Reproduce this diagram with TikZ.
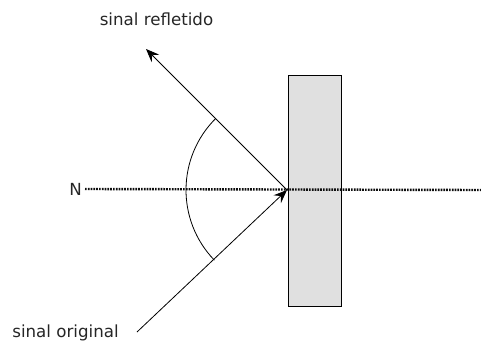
\documentclass[tikz,border=0pt]{standalone}
\usepackage{fontspec}
\setmainfont{DejaVu Sans}
\usetikzlibrary{arrows.meta}
\begin{document}
\begin{tikzpicture}[x=0.75pt,y=-0.75pt,
  lbl/.style={font=\fontsize{12.5}{14}\selectfont, text=black!85, inner sep=0pt},
  ray/.style={line width=0.6pt, -{Stealth[length=10pt,width=8pt,inset=3.5pt]}},
  normal/.style={line width=1.8pt, dash pattern=on 1.3pt off 0.8pt, black!95}]
\useasboundingbox (0,0) rectangle (481,349);
\node[draw=black, line width=0.6pt, fill=black!12, minimum width=53*0.75pt, minimum height=231*0.75pt, inner sep=0pt, anchor=north west] (mirror) at (288,75) {};
\coordinate (O) at (287,190);
\coordinate (nend) at (481,190);
\coordinate (src) at (137,332);
\coordinate (dst) at (146,49);
\node[lbl, anchor=east] (N) at (82,189) {N};
\node[lbl] (refl) at (156.5,19.5) {sinal refletido};
\node[lbl] (orig) at (65.5,333) {sinal original};
\draw[normal] (N.east) ++(3,0) -- (nend);
\draw[ray] (src) -- (O);
\draw[ray] (O) -- (dst);
\draw[line width=0.6pt] (O) ++(136:101) arc[start angle=136, end angle=225, radius=101];
\end{tikzpicture}
\end{document}
